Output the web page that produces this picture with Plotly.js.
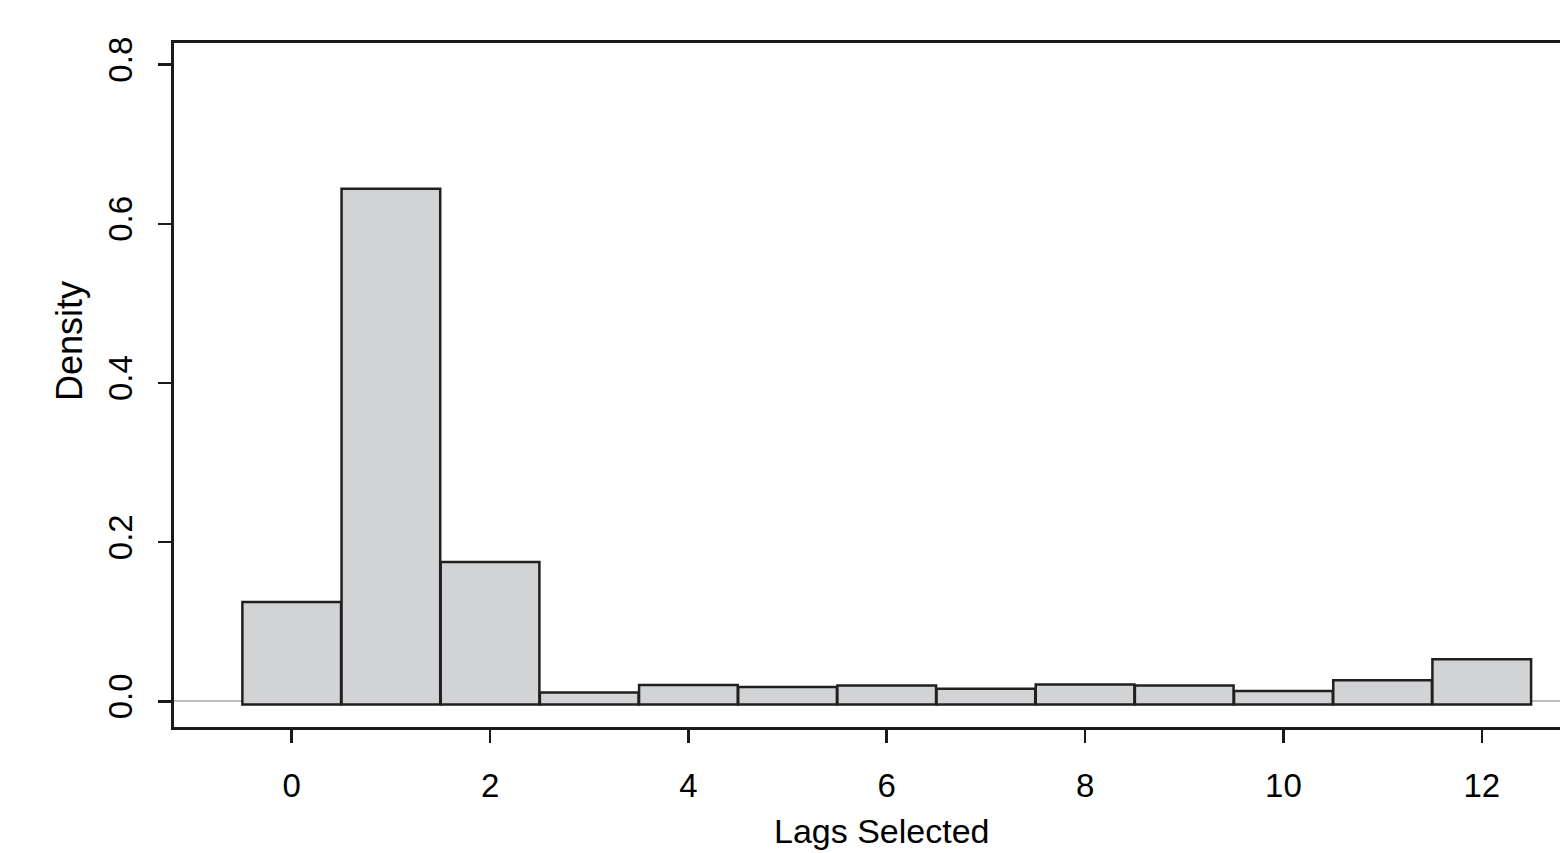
<!DOCTYPE html>
<html>
<head>
<meta charset="utf-8">
<script src="https://cdn.plot.ly/plotly-3.0.1.min.js"></script>
<style>html,body{margin:0;padding:0;background:#fff;}#chart{width:1560px;height:853px;}</style>
</head>
<body>
<div id="chart"></div>
<script>
// Data
const lags = [0, 1, 2, 3, 4, 5, 6, 7, 8, 9, 10, 11, 12];
const density = [0.125, 0.644, 0.175, 0.011, 0.0205, 0.018, 0.020, 0.016, 0.0213, 0.020, 0.013, 0.0265, 0.053];
const xTickVals = [0, 2, 4, 6, 8, 10, 12];
const yTickVals = [0.0, 0.2, 0.4, 0.6, 0.8];
const yTickText = ["0.0", "0.2", "0.4", "0.6", "0.8"];
const xTitle = 'Lags Selected';
const yTitle = 'Density';

const barBase = -0.004;
const fontFam = 'Liberation Sans, Arial, Helvetica, sans-serif';

const trace = {
  type: 'bar',
  x: lags,
  y: density.map(v => v - barBase),
  base: barBase,
  width: 0.995,
  marker: { color: '#d1d3d4', line: { color: '#231f20', width: 2.5 } },
  hoverinfo: 'skip'
};

const layout = {
  width: 1560, height: 853,
  margin: { l: 174, r: 0, t: 43, b: 126, pad: 0 },
  paper_bgcolor: '#ffffff', plot_bgcolor: '#ffffff',
  showlegend: false,
  font: { family: fontFam, color: '#000000', size: 33 },
  xaxis: {
    range: [-1.187, 12.789],
    tickvals: xTickVals,
    ticktext: xTickVals.map(String),
    ticks: 'outside', ticklen: 13, tickwidth: 2.5, tickcolor: '#1a1a1a',
    showline: true, linecolor: '#1a1a1a', linewidth: 3, mirror: true,
    showgrid: false, zeroline: false,
    tickfont: { family: fontFam, size: 33, color: '#000' },
    ticklabelstandoff: 14
  },
  yaxis: {
    range: [-0.0322, 0.8272],
    tickvals: yTickVals,
    ticktext: yTickText,
    tickangle: -90,
    ticks: 'outside', ticklen: 13, tickwidth: 2.5, tickcolor: '#1a1a1a',
    showline: true, linecolor: '#1a1a1a', linewidth: 3,
    showgrid: false,
    zeroline: true, zerolinecolor: '#bebebe', zerolinewidth: 2,
    tickfont: { family: fontFam, size: 33, color: '#000' },
    ticklabelstandoff: 13
  },
  annotations: [
    { text: xTitle, xref: 'x', yref: 'paper', x: 5.95, y: -0.152, xanchor: 'center', yanchor: 'middle',
      showarrow: false, font: { family: fontFam, size: 34, color: '#000' } },
    { text: yTitle, xref: 'paper', yref: 'paper', x: -0.0758, y: 0.5643, xanchor: 'center', yanchor: 'middle',
      textangle: -90, showarrow: false, font: { family: fontFam, size: 36, color: '#000' } }
  ],
  bargap: 0
};

Plotly.newPlot('chart', [trace], layout, { staticPlot: true, displayModeBar: false });
</script>
</body>
</html>
